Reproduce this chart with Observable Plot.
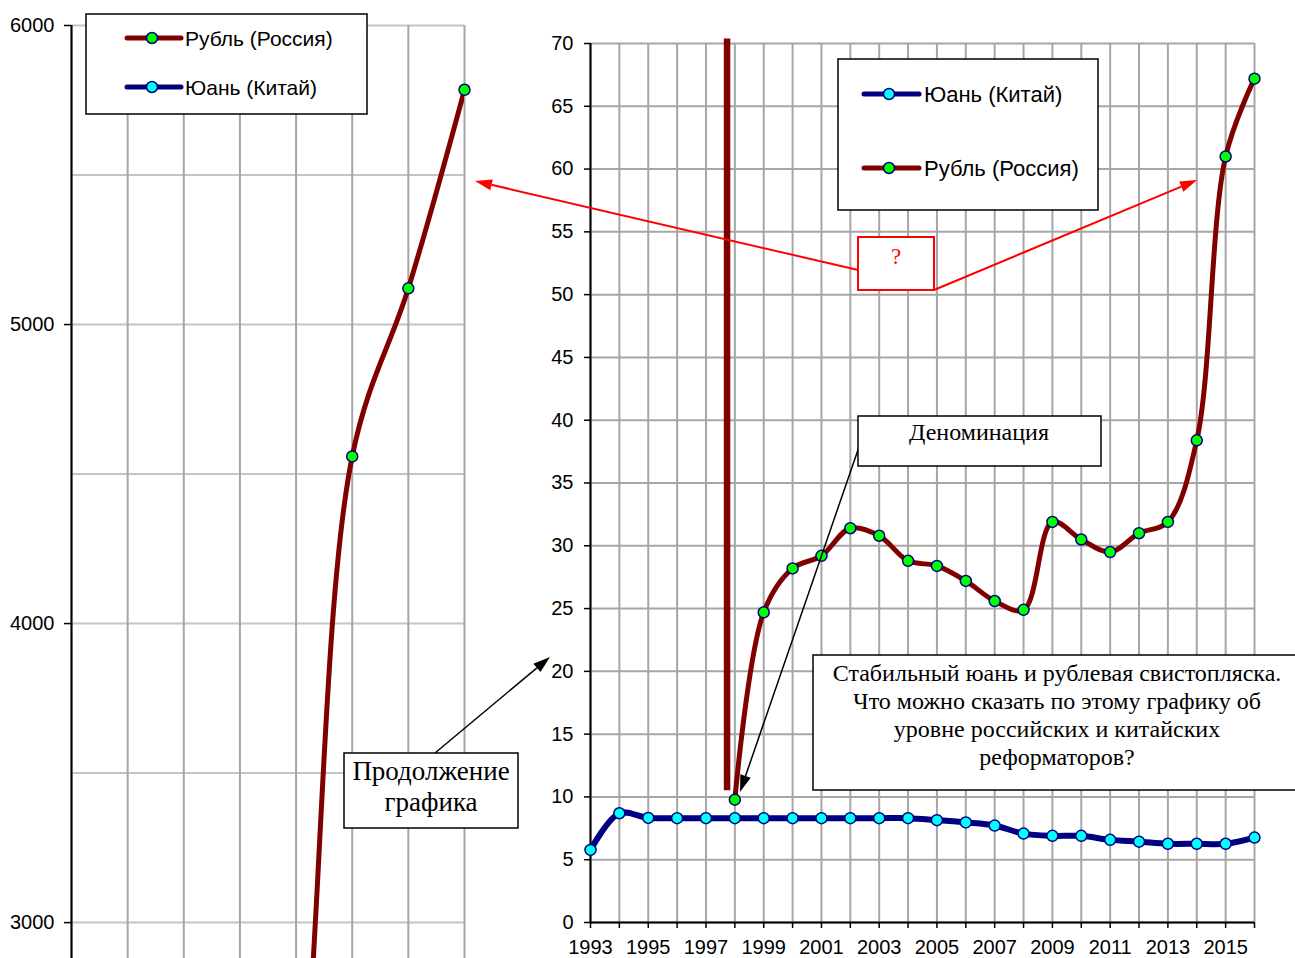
<!DOCTYPE html>
<html>
<head>
<meta charset="utf-8">
<script src="https://cdn.jsdelivr.net/npm/d3@7"></script>
<script src="https://cdn.jsdelivr.net/npm/@observablehq/plot@0.6"></script>
<style>
  html, body { margin: 0; padding: 0; background: #fff; }
  #wrap { position: relative; width: 1295px; height: 958px; overflow: hidden; background: #fff; }
  #wrap > svg, #wrap > div { position: absolute; top: 0; }
  #left { left: 0; }
  #right { left: 530px; }
  #overlay { position: absolute; left: 0; top: 0; pointer-events: none; }
</style>
</head>
<body>
<div id="wrap">
  <div id="left"></div>
  <div id="right"></div>
</div>
<script>
// ---- data ----
// Left panel: ruble before denomination (roubles per USD)
const oldRubleYears = [1993, 1994, 1995, 1996, 1997];
const oldRubleValues = [1250, 2200, 4559, 5121, 5785];
const leftGridYears = [1990, 1991, 1992, 1993, 1994, 1995, 1996, 1997];
const leftGridValues = [3000, 3500, 4000, 4500, 5000, 5500, 6000];
const leftTickValues = [3000, 4000, 5000, 6000];

// Right panel
const years = [1993, 1994, 1995, 1996, 1997, 1998, 1999, 2000, 2001, 2002, 2003, 2004,
               2005, 2006, 2007, 2008, 2009, 2010, 2011, 2012, 2013, 2014, 2015, 2016];
const yuanValues = [5.78, 8.7, 8.33, 8.31, 8.31, 8.31, 8.31, 8.31, 8.31, 8.31, 8.31, 8.31,
                    8.15, 7.97, 7.72, 7.08, 6.9, 6.9, 6.58, 6.44, 6.27, 6.27, 6.27, 6.76];
const rubleYears = [1998, 1999, 2000, 2001, 2002, 2003, 2004, 2005, 2006, 2007, 2008,
                    2009, 2010, 2011, 2012, 2013, 2014, 2015, 2016];
const rubleValues = [9.78, 24.7, 28.2, 29.2, 31.4, 30.8, 28.8, 28.4, 27.2, 25.6, 24.9,
                     31.9, 30.5, 29.5, 31.0, 31.9, 38.4, 61.0, 67.2];
// denomination jump drawn as a vertical stroke
const denomX = [1997.73];
const denomFrom = [10.5];
const denomTo = [70.35];
const yTicks = [0, 5, 10, 15, 20, 25, 30, 35, 40, 45, 50, 55, 60, 65, 70];
const xLabelYears = [1993, 1995, 1997, 1999, 2001, 2003, 2005, 2007, 2009, 2011, 2013, 2015];

const rubleName = "Рубль (Россия)";
const yuanName = "Юань (Китай)";

const oldRuble = oldRubleYears.map((y, i) => ({year: y, value: oldRubleValues[i]}));
const yuan = years.map((y, i) => ({year: y, value: yuanValues[i]}));
const ruble = rubleYears.map((y, i) => ({year: y, value: rubleValues[i]}));
const denom = denomX.map((x, i) => ({x, y1: denomFrom[i], y2: denomTo[i]}));

const RUB = "#800000", CNY = "#000080", GRID = "#a6a6a6";
const FONT = "'Liberation Sans', Arial, sans-serif";
const SERIF = "'Liberation Serif', 'Times New Roman', serif";

// ---- left panel ----
const left = Plot.plot({
  width: 475, height: 958,
  marginLeft: 71, marginRight: 11, marginTop: 25, marginBottom: 0,
  x: {domain: [1990, 1997], axis: null},
  y: {domain: [2880, 6000], axis: null},
  style: {fontFamily: FONT, fontSize: "20px", color: "black", background: "transparent", overflow: "visible"},
  marks: [
    Plot.ruleY(leftGridValues, {stroke: "#c4c4c4", strokeWidth: 2}),
    Plot.ruleX(leftGridYears, {stroke: GRID, strokeWidth: 2}),
    Plot.ruleX([1990], {stroke: "black", strokeWidth: 2}),
    Plot.axisY({ticks: leftTickValues, tickFormat: d => String(d), tickSize: 7, tickPadding: 10,
                fontSize: 20, strokeWidth: 1.5, label: null}),
    Plot.line(oldRuble, {x: "year", y: "value", stroke: RUB, strokeWidth: 5,
                         curve: "catmull-rom", clip: true}),
    Plot.dot(oldRuble.filter(d => d.value >= 2880), {x: "year", y: "value", r: 5.5,
                         fill: "#00ff00", stroke: CNY, strokeWidth: 1.5})
  ]
});
document.getElementById("left").appendChild(left);

// ---- right panel ----
const right = Plot.plot({
  width: 765, height: 958,
  marginLeft: 60, marginRight: 41, marginTop: 43, marginBottom: 36,
  x: {domain: [1993, 2016], axis: null},
  y: {domain: [0, 70], axis: null},
  style: {fontFamily: FONT, fontSize: "20px", color: "black", background: "transparent", overflow: "visible"},
  marks: [
    Plot.ruleX(years, {stroke: GRID, strokeWidth: 2}),
    Plot.ruleY(yTicks, {stroke: GRID, strokeWidth: 2}),
    Plot.ruleX([1993], {stroke: "black", strokeWidth: 2}),
    Plot.ruleY([0], {stroke: "black", strokeWidth: 2}),
    Plot.axisY({ticks: yTicks, tickSize: 6, tickPadding: 11, fontSize: 20, strokeWidth: 1.5, label: null}),
    Plot.axisX({ticks: years, tickFormat: d => xLabelYears.includes(d) ? String(d) : "",
                tickSize: 6, tickPadding: 11, fontSize: 20, strokeWidth: 1.5, label: null}),
    Plot.ruleX(denom, {x: "x", y1: "y1", y2: "y2", stroke: RUB, strokeWidth: 6.5}),
    Plot.line(yuan, {x: "year", y: "value", stroke: CNY, strokeWidth: 6, curve: "catmull-rom"}),
    Plot.line(ruble, {x: "year", y: "value", stroke: RUB, strokeWidth: 5, curve: "catmull-rom"}),
    Plot.dot(yuan, {x: "year", y: "value", r: 5.5, fill: "#00ffff", stroke: CNY, strokeWidth: 1.5}),
    Plot.dot(ruble, {x: "year", y: "value", r: 5.5, fill: "#00ff00", stroke: CNY, strokeWidth: 1.5})
  ]
});
document.getElementById("right").appendChild(right);

// ---- overlay: legends, annotation boxes and arrows ----
const NS = "http://www.w3.org/2000/svg";
const ov = document.createElementNS(NS, "svg");
ov.setAttribute("id", "overlay");
ov.setAttribute("width", 1295);
ov.setAttribute("height", 958);
document.getElementById("wrap").appendChild(ov);
function el(tag, attrs, text) {
  const e = document.createElementNS(NS, tag);
  for (const k in attrs) e.setAttribute(k, attrs[k]);
  if (text != null) e.textContent = text;
  ov.appendChild(e);
  return e;
}
function box(x1, y1, x2, y2, stroke = "black", sw = 1.5) {
  el("rect", {x: x1, y: y1, width: x2 - x1, height: y2 - y1, fill: "white", stroke, "stroke-width": sw});
}
function legendItem(x1, x2, cx, y, color, fill, label, tx, size) {
  el("line", {x1, y1: y, x2, y2: y, stroke: color, "stroke-width": 5, "stroke-linecap": "round"});
  el("circle", {cx, cy: y, r: 5.5, fill, stroke: CNY, "stroke-width": 1.5});
  el("text", {x: tx, y, "dominant-baseline": "central", "font-family": FONT, "font-size": size, fill: "black"}, label);
}
function arrow(x1, y1, x2, y2, color, sw, len, wid) {
  const a = Math.atan2(y2 - y1, x2 - x1);
  const bx = x2 - len * Math.cos(a), by = y2 - len * Math.sin(a);
  el("line", {x1, y1, x2: bx, y2: by, stroke: color, "stroke-width": sw});
  const px = -Math.sin(a) * wid / 2, py = Math.cos(a) * wid / 2;
  el("polygon", {points: `${x2},${y2} ${bx + px},${by + py} ${bx - px},${by - py}`, fill: color});
}
function textLines(cx, ys, lines, size, color = "black") {
  lines.forEach((t, i) => el("text", {x: cx, y: ys[i], "text-anchor": "middle",
    "font-family": SERIF, "font-size": size, fill: color}, t));
}

// left legend
box(86, 14, 367, 114);
legendItem(127, 181, 152, 38, RUB, "#00ff00", rubleName, 185, 21);
legendItem(127, 181, 152, 87, CNY, "#00ffff", yuanName, 185, 21);

// right legend
box(838, 59, 1098, 210);
legendItem(864, 919, 889, 94, CNY, "#00ffff", yuanName, 924, 22);
legendItem(864, 919, 889, 168, RUB, "#00ff00", rubleName, 924, 22);

// red question box and arrows
arrow(858, 270, 475, 181, "red", 2, 17, 11);
arrow(934, 290, 1197, 180, "red", 2, 17, 11);
box(858, 237, 934, 290, "red", 2);
textLines(896, [264], ["?"], 23, "red");

// denomination box and arrow
arrow(859, 447, 740, 792, "black", 1.5, 17, 11);
box(858, 416, 1101, 466);
textLines(979, [440], ["Деноминация"], 24);

// continuation box and arrow
arrow(435, 753, 550, 657, "black", 1.5, 17, 11);
box(344, 753, 518, 828);
textLines(431, [780, 811], ["Продолжение", "графика"], 27);

// question text box
box(813, 655, 1300, 790);
textLines(1057, [681, 709, 737, 765], [
  "Стабильный юань и рублевая свистопляска.",
  "Что можно сказать по этому графику об",
  "уровне российских и китайских",
  "реформаторов?"
], 24);
</script>
</body>
</html>
